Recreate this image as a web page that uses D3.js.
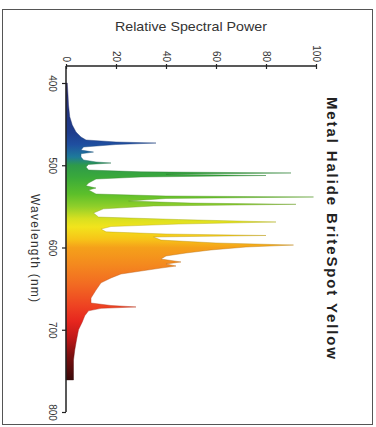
<!DOCTYPE html>
<html>
<head>
<meta charset="utf-8">
<script src="https://cdn.jsdelivr.net/npm/d3@7"></script>
<style>
  html, body { margin: 0; padding: 0; background: #fff; }
  svg { display: block; font-family: "Liberation Sans", Arial, sans-serif; }
</style>
</head>
<body>
<script>
// ---- data ----
const wavelengths = [400, 414.6, 426.7, 441, 451, 459.6, 465.7, 469.3, 471.7, 473, 474.8, 477.8, 481.5, 484, 486, 490, 493.6, 496, 497.3, 499, 502, 505.8, 508, 509.4, 511, 512.5, 514.3, 516.7, 521.6, 525, 527.7, 530, 535, 537.4, 538.6, 540.4, 543.5, 546, 547.5, 549.5, 553, 558, 563, 566, 569, 571.5, 574.5, 577.5, 581, 583.6, 585.4, 587.2, 591, 594.5, 597, 599.4, 603, 606.7, 610.3, 614, 617.6, 620, 622.5, 625, 628.6, 632.2, 637, 643, 651.7, 661.4, 667.5, 670.5, 672.3, 674, 677, 683, 690.6, 700, 712.5, 724.6, 736.8, 749, 761];
const power = [0.5, 0.8, 1, 1.5, 2.5, 4, 6, 8, 20, 36, 20, 7, 6, 11, 6, 6, 7, 12, 18, 9, 8, 9, 30, 90, 40, 80, 30, 12, 9, 8, 12, 9, 12, 40, 99, 40, 25, 50, 92, 35, 15, 11, 13, 45, 84, 45, 18, 14, 16, 40, 80, 35, 38, 60, 91, 72, 58, 48, 40, 38, 46, 40, 44, 38, 30, 22, 18, 14, 12, 10, 10, 18, 28, 14, 9, 7.5, 6.5, 5, 4.2, 3.5, 3, 3, 3];
const wlTicks = [400, 500, 600, 700, 800];
const powerTicks = [0, 20, 40, 60, 80, 100];
const colorStopsWl = [400, 460, 475, 490, 500, 515, 535, 550, 565, 575, 590, 600, 620, 645, 670, 690, 710, 730, 760, 800];
const colorStops = ["#2a2a6e", "#1e3c8c", "#1f4fa0", "#1e7a9a", "#2e9a4a", "#3aaa3a", "#5cbf2a", "#8fcf2a", "#d8e020", "#f2e41c", "#f7c418", "#f5a11a", "#f48a1e", "#f26a22", "#ee4422", "#e6261e", "#c01818", "#801010", "#3c0a0a", "#2a0808"];
const chartTitle = "Metal Halide BriteSpot Yellow";
const valueTitle = "Relative Spectral Power";
const wlTitle = "Wavelength (nm)";

const data = wavelengths.map((w, i) => ({ wl: w, v: power[i] }));

const W = 376, H = 427;
const svg = d3.select("body").append("svg").attr("width", W).attr("height", H);

// frame
svg.append("rect").attr("x", 2.5).attr("y", 9.5).attr("width", 370).attr("height", 415)
  .attr("fill", "#fff").attr("stroke", "#555").attr("stroke-width", 1);

// scales (chart rotated 90° clockwise: wavelength runs downward, power runs rightward)
const x = d3.scaleLinear().domain([0, 100]).range([66, 316]);
const y = d3.scaleLinear().domain([400, 800]).range([83, 412]);

// gradients
const defs = svg.append("defs");
const grad = defs.append("linearGradient").attr("id", "spec")
  .attr("gradientUnits", "userSpaceOnUse")
  .attr("x1", 0).attr("x2", 0).attr("y1", y(400)).attr("y2", y(800));
colorStopsWl.forEach((w, i) => {
  grad.append("stop").attr("offset", (w - 400) / 400).attr("stop-color", colorStops[i]);
});
const grad2 = defs.append("linearGradient").attr("id", "specDark")
  .attr("gradientUnits", "userSpaceOnUse")
  .attr("x1", 0).attr("x2", 0).attr("y1", y(400)).attr("y2", y(800));
colorStopsWl.forEach((w, i) => {
  grad2.append("stop").attr("offset", (w - 400) / 400).attr("stop-color", d3.color(colorStops[i]).darker(0.8));
});

// area
const area = d3.area()
  .y(d => y(d.wl))
  .x0(x(0))
  .x1(d => x(d.v))
  .curve(d3.curveLinear);

svg.append("path").datum(data)
  .attr("d", area)
  .attr("fill", "url(#spec)")
  .attr("stroke", "url(#specDark)")
  .attr("stroke-width", 0.6)
  .attr("stroke-opacity", 0.7);

// value axis (top)
const gx = svg.append("g").attr("transform", `translate(0,${66})`)
  .call(d3.axisTop(x).tickValues(powerTicks).tickSize(3).tickSizeOuter(0));
gx.select(".domain").remove();
gx.selectAll(".tick line").attr("y1", 3).attr("y2", -2).attr("stroke", "#222").attr("stroke-width", 1.2);
gx.selectAll(".tick text")
  .attr("x", 0).attr("y", 0).attr("dy", null)
  .attr("transform", "translate(0,-4) rotate(90)")
  .attr("text-anchor", "end")
  .attr("dominant-baseline", "central")
  .attr("font-size", 10)
  .attr("fill", "#333");
svg.append("line").attr("x1", x(0)).attr("x2", x(100)).attr("y1", 66).attr("y2", 66)
  .attr("stroke", "#222").attr("stroke-width", 1.5);

// wavelength axis (left)
const gy = svg.append("g").attr("transform", `translate(${66},0)`)
  .call(d3.axisLeft(y).tickValues(wlTicks).tickSize(4).tickSizeOuter(0));
gy.select(".domain").remove();
gy.selectAll(".tick line").attr("stroke", "#222").attr("stroke-width", 1.2);
gy.selectAll(".tick text")
  .attr("x", 0).attr("y", 0).attr("dy", null)
  .attr("transform", "translate(-14,0) rotate(90)")
  .attr("text-anchor", "middle")
  .attr("dominant-baseline", "central")
  .attr("font-size", 10)
  .attr("fill", "#333");
svg.append("line").attr("x1", 66).attr("x2", 66).attr("y1", 66).attr("y2", y(800))
  .attr("stroke", "#222").attr("stroke-width", 1.5);

// titles
svg.append("text").attr("x", (x(0) + x(100)) / 2).attr("y", 26)
  .attr("text-anchor", "middle").attr("dominant-baseline", "central")
  .attr("font-size", 13.5).attr("fill", "#333")
  .attr("textLength", 152).attr("lengthAdjust", "spacingAndGlyphs")
  .text(valueTitle);

svg.append("text").attr("transform", `translate(35,248) rotate(90)`)
  .attr("text-anchor", "middle").attr("dominant-baseline", "central")
  .attr("font-size", 12).attr("fill", "#333")
  .attr("textLength", 108).attr("lengthAdjust", "spacing")
  .text(wlTitle);

svg.append("text").attr("transform", `translate(332,228) rotate(90)`)
  .attr("text-anchor", "middle").attr("dominant-baseline", "central")
  .attr("font-size", 15).attr("font-weight", "bold").attr("fill", "#222")
  .attr("textLength", 262).attr("lengthAdjust", "spacing")
  .text(chartTitle);
</script>
</body>
</html>
